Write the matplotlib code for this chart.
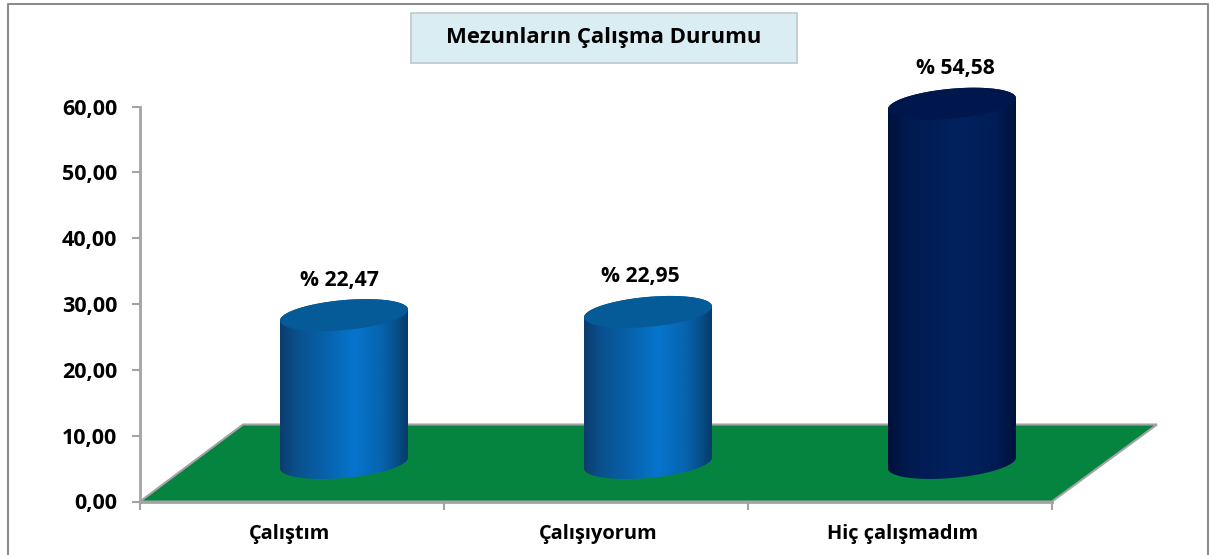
import matplotlib
matplotlib.use("Agg")
import matplotlib.pyplot as plt
import numpy as np
from matplotlib.colors import LinearSegmentedColormap
from matplotlib.lines import Line2D
from matplotlib.patches import Polygon, Rectangle

plt.rcParams['font.family'] = ['Open Sans', 'DejaVu Sans']

categories = ["Çalıştım", "Çalışıyorum", "Hiç çalışmadım"]
values = [22.47, 22.95, 54.58]
value_labels = ["% 22,47", "% 22,95", "% 54,58"]
yticks = [0, 10, 20, 30, 40, 50, 60]
ytick_labels = ["0,00", "10,00", "20,00", "30,00", "40,00", "50,00", "60,00"]
title = "Mezunların Çalışma Durumu"

W, H = 1210, 555
GREY = "#a3a3a3"

fig = plt.figure(figsize=(W / 100, H / 100), dpi=100)
ax = fig.add_axes([140 / W, 1 - 501.5 / H, (1052 - 140) / W, (501 - 106) / H])
ax.set_zorder(2)

# pixel sizes turned into data units
ux = 1 / 304.0
uy = 60 / 395.0
depth_x = 103 * ux
depth_y = 77 * uy

# floor
ax.add_patch(Polygon([(0, 0), (3, 0), (3 + depth_x + 2 * ux, depth_y), (depth_x, depth_y)],
                     closed=True, fc="#05843f", ec=GREY, lw=1.5, clip_on=False, zorder=1))

bar_cmap = LinearSegmentedColormap.from_list(
    "b", [(0, "#0c3c6c"), (0.12, "#0a4f8c"), (0.35, "#0762aa"), (0.58, "#0675cd"), (0.8, "#0663ad"), (0.93, "#074c84"), (1, "#063a66")])
navy_cmap = LinearSegmentedColormap.from_list(
    "n", [(0, "#00123a"), (0.15, "#011a4f"), (0.55, "#02225f"), (0.85, "#011c54"), (1, "#001139")])
cmaps = [bar_cmap, bar_cmap, navy_cmap]
top_colors = ["#055a98", "#055a98", "#00174d"]
grad = np.linspace(0, 1, 256).reshape(1, -1)

t = np.linspace(0, 2 * np.pi, 201)
half_w = 64
tilt = 5.5
minor = 15.0

for i, v in enumerate(values):
    cx = i + 0.5 + (depth_x + 1 * ux) / 2
    cy = depth_y / 2
    ex = half_w * np.cos(t) * ux
    ey = (tilt * np.cos(t) + minor * np.sin(t)) * uy
    # body: lower half of the bottom ellipse, then upper half of the top one
    low = t[100:]
    up = t[:101]
    bx = cx + half_w * np.cos(low) * ux
    by = cy + (tilt * np.cos(low) + minor * np.sin(low)) * uy
    tx = cx + half_w * np.cos(up) * ux
    ty = cy + v + (tilt * np.cos(up) + minor * np.sin(up)) * uy
    verts = np.vstack([np.column_stack([bx, by]), np.column_stack([tx, ty])])
    body = Polygon(verts, closed=True, fc="none", ec="none")
    ax.add_patch(body)
    im = ax.imshow(grad, cmap=cmaps[i], aspect="auto", zorder=3, interpolation="bilinear",
                   extent=[cx - half_w * ux, cx + half_w * ux, 0, depth_y + v + 30 * uy])
    im.set_clip_box(fig.bbox)
    im.set_clip_path(body)
    ax.add_patch(Polygon(np.column_stack([cx + ex, cy + v + ey]), closed=True,
                         fc=top_colors[i], ec="none", clip_on=False, zorder=4))

label_dx = [-4, -7, 4]
for i, v in enumerate(values):
    ax.text(i + 0.5 + depth_x / 2 + label_dx[i] * ux, depth_y / 2 + v + 35 * uy, value_labels[i],
            ha="center", va="center", fontsize=15.2, fontweight="bold", color="black", clip_on=False)

ax.set_xlim(0, 3)
ax.set_ylim(0, 60)
ax.set_yticks(yticks)
ax.set_yticklabels(ytick_labels, fontsize=15.5, fontweight="bold")
ax.set_xticks([0, 1, 2, 3])
ax.set_xticklabels([])
ax.tick_params(axis="both", color=GREY, width=1.5, length=5.5, pad=11)
ax.patch.set_alpha(0)
for s in ["top", "right"]:
    ax.spines[s].set_visible(False)
for s in ["left", "bottom"]:
    ax.spines[s].set_color(GREY)
    ax.spines[s].set_linewidth(2)

cat_dx = [-2, 2, 3]
for i, c in enumerate(categories):
    ax.annotate(c, xy=(i + 0.5 + cat_dx[i] * ux, 0), xytext=(0, -32 * 0.72), textcoords="offset points",
                ha="center", va="center", fontsize=14.4, fontweight="bold", annotation_clip=False)

# outer frame
frame_x = [8 / W, 8 / W, 1208 / W, 1208 / W]
frame_y = [0, 1 - 4 / H, 1 - 4 / H, 0]
fig.add_artist(Line2D(frame_x, frame_y, color="#8c8c8c", lw=1.5))

# title box
fig.add_artist(Rectangle((411 / W, 1 - 63 / H), 386 / W, 50 / H, fc="#daedf3", ec="#bcc8cc", lw=1.2))
fig.text(604 / W, 1 - 38 / H, title, ha="center", va="center", fontsize=15.9, fontweight="bold", color="black")

plt.savefig("out.png", dpi=100)
